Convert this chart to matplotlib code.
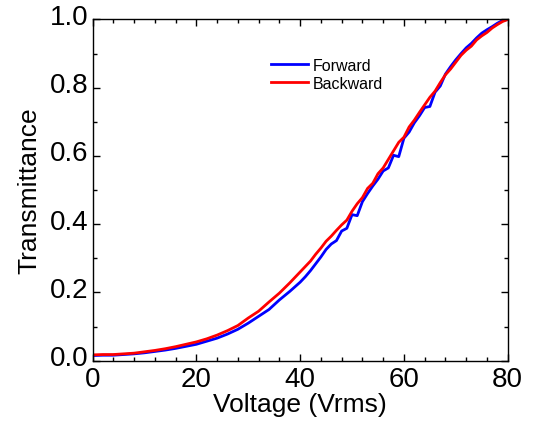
import numpy as np
import matplotlib.pyplot as plt
import matplotlib.transforms as mtransforms
from matplotlib.ticker import MultipleLocator

plt.rcParams['font.family'] = ['Liberation Sans', 'DejaVu Sans']

# 正向扫描 (Forward)
volt_fwd = [0, 2, 4, 6, 8, 10, 12, 14, 16, 18, 20, 22, 24, 26, 28, 30, 32, 34, 36, 38,
            40, 41, 42, 43, 44, 45, 46, 47, 48, 49, 50, 51, 52, 53, 54, 55, 56, 57, 58, 59,
            60, 61, 62, 63, 64, 65, 66, 67, 68, 69, 70, 71, 72, 73, 74, 75, 76, 77, 78, 79, 80]
trans_fwd = [0.015, 0.016, 0.016, 0.018, 0.020, 0.023, 0.027, 0.031, 0.036, 0.042,
             0.048, 0.057, 0.066, 0.078, 0.092, 0.110, 0.130, 0.150, 0.178, 0.203,
             0.230, 0.246, 0.264, 0.284, 0.304, 0.326, 0.342, 0.352, 0.380, 0.388,
             0.428, 0.425, 0.466, 0.490, 0.512, 0.532, 0.556, 0.565, 0.602, 0.598,
             0.652, 0.670, 0.697, 0.718, 0.742, 0.745, 0.787, 0.805, 0.840, 0.862,
             0.882, 0.900, 0.917, 0.930, 0.946, 0.960, 0.970, 0.979, 0.989, 0.997, 1.000]

# 反向扫描 (Backward)
volt_bwd = [0, 2, 4, 6, 8, 10, 12, 14, 16, 18, 20, 22, 24, 26, 28, 30, 32, 34, 36, 38,
            40, 41, 42, 43, 44, 45, 46, 47, 48, 49, 50, 51, 52, 53, 54, 55, 56, 57, 58, 59,
            60, 61, 62, 63, 64, 65, 66, 67, 68, 69, 70, 71, 72, 73, 74, 75, 76, 77, 78, 79, 80]
trans_bwd = [0.017, 0.018, 0.018, 0.020, 0.022, 0.026, 0.030, 0.035, 0.041, 0.048,
             0.055, 0.064, 0.075, 0.088, 0.103, 0.125, 0.145, 0.172, 0.198, 0.228,
             0.260, 0.276, 0.292, 0.312, 0.330, 0.350, 0.365, 0.382, 0.398, 0.412,
             0.438, 0.460, 0.478, 0.505, 0.520, 0.548, 0.565, 0.590, 0.615, 0.640,
             0.655, 0.685, 0.705, 0.728, 0.750, 0.772, 0.790, 0.815, 0.838, 0.855,
             0.875, 0.895, 0.910, 0.922, 0.940, 0.952, 0.962, 0.975, 0.985, 0.994, 1.000]

fig = plt.figure(figsize=(5.35, 4.27), dpi=100)
ax = fig.add_axes([0.173, 0.153, 0.776, 0.799])

ax.plot(volt_fwd, trans_fwd, color='#0000ff', lw=2.0, label='Forward')
ax.plot(volt_bwd, trans_bwd, color='#ff0000', lw=2.0, label='Backward')

ax.set_xlim(0, 80)
ax.set_ylim(0, 1.0)
ax.xaxis.set_major_locator(MultipleLocator(20))
ax.xaxis.set_minor_locator(MultipleLocator(4))
ax.yaxis.set_major_locator(MultipleLocator(0.2))
ax.yaxis.set_minor_locator(MultipleLocator(0.1))
ax.yaxis.set_major_formatter(plt.FormatStrFormatter('%.1f'))

ax.tick_params(which='both', direction='in', top=True, right=True, labelsize=20, width=1)
ax.tick_params(which='major', length=5, pad=3)
ax.tick_params(which='minor', length=3)
ax.tick_params(axis='x', which='major', pad=4)
for s in ax.spines.values():
    s.set_linewidth(1.0)

# y 轴刻度文字略微上移
shift = mtransforms.ScaledTranslation(0, 4 / 72, fig.dpi_scale_trans)
for lab in ax.get_yticklabels():
    lab.set_transform(lab.get_transform() + shift)

ax.set_xlabel('Voltage (Vrms)', fontsize=19, labelpad=0)
ax.set_ylabel('Transmittance', fontsize=19, labelpad=6)

ax.legend(loc='upper left', bbox_to_anchor=(0.395, 0.93), frameon=False, fontsize=11.5,
          handlelength=2.3, handletextpad=0.3, labelspacing=0.2)

plt.savefig('out.png', dpi=100)
